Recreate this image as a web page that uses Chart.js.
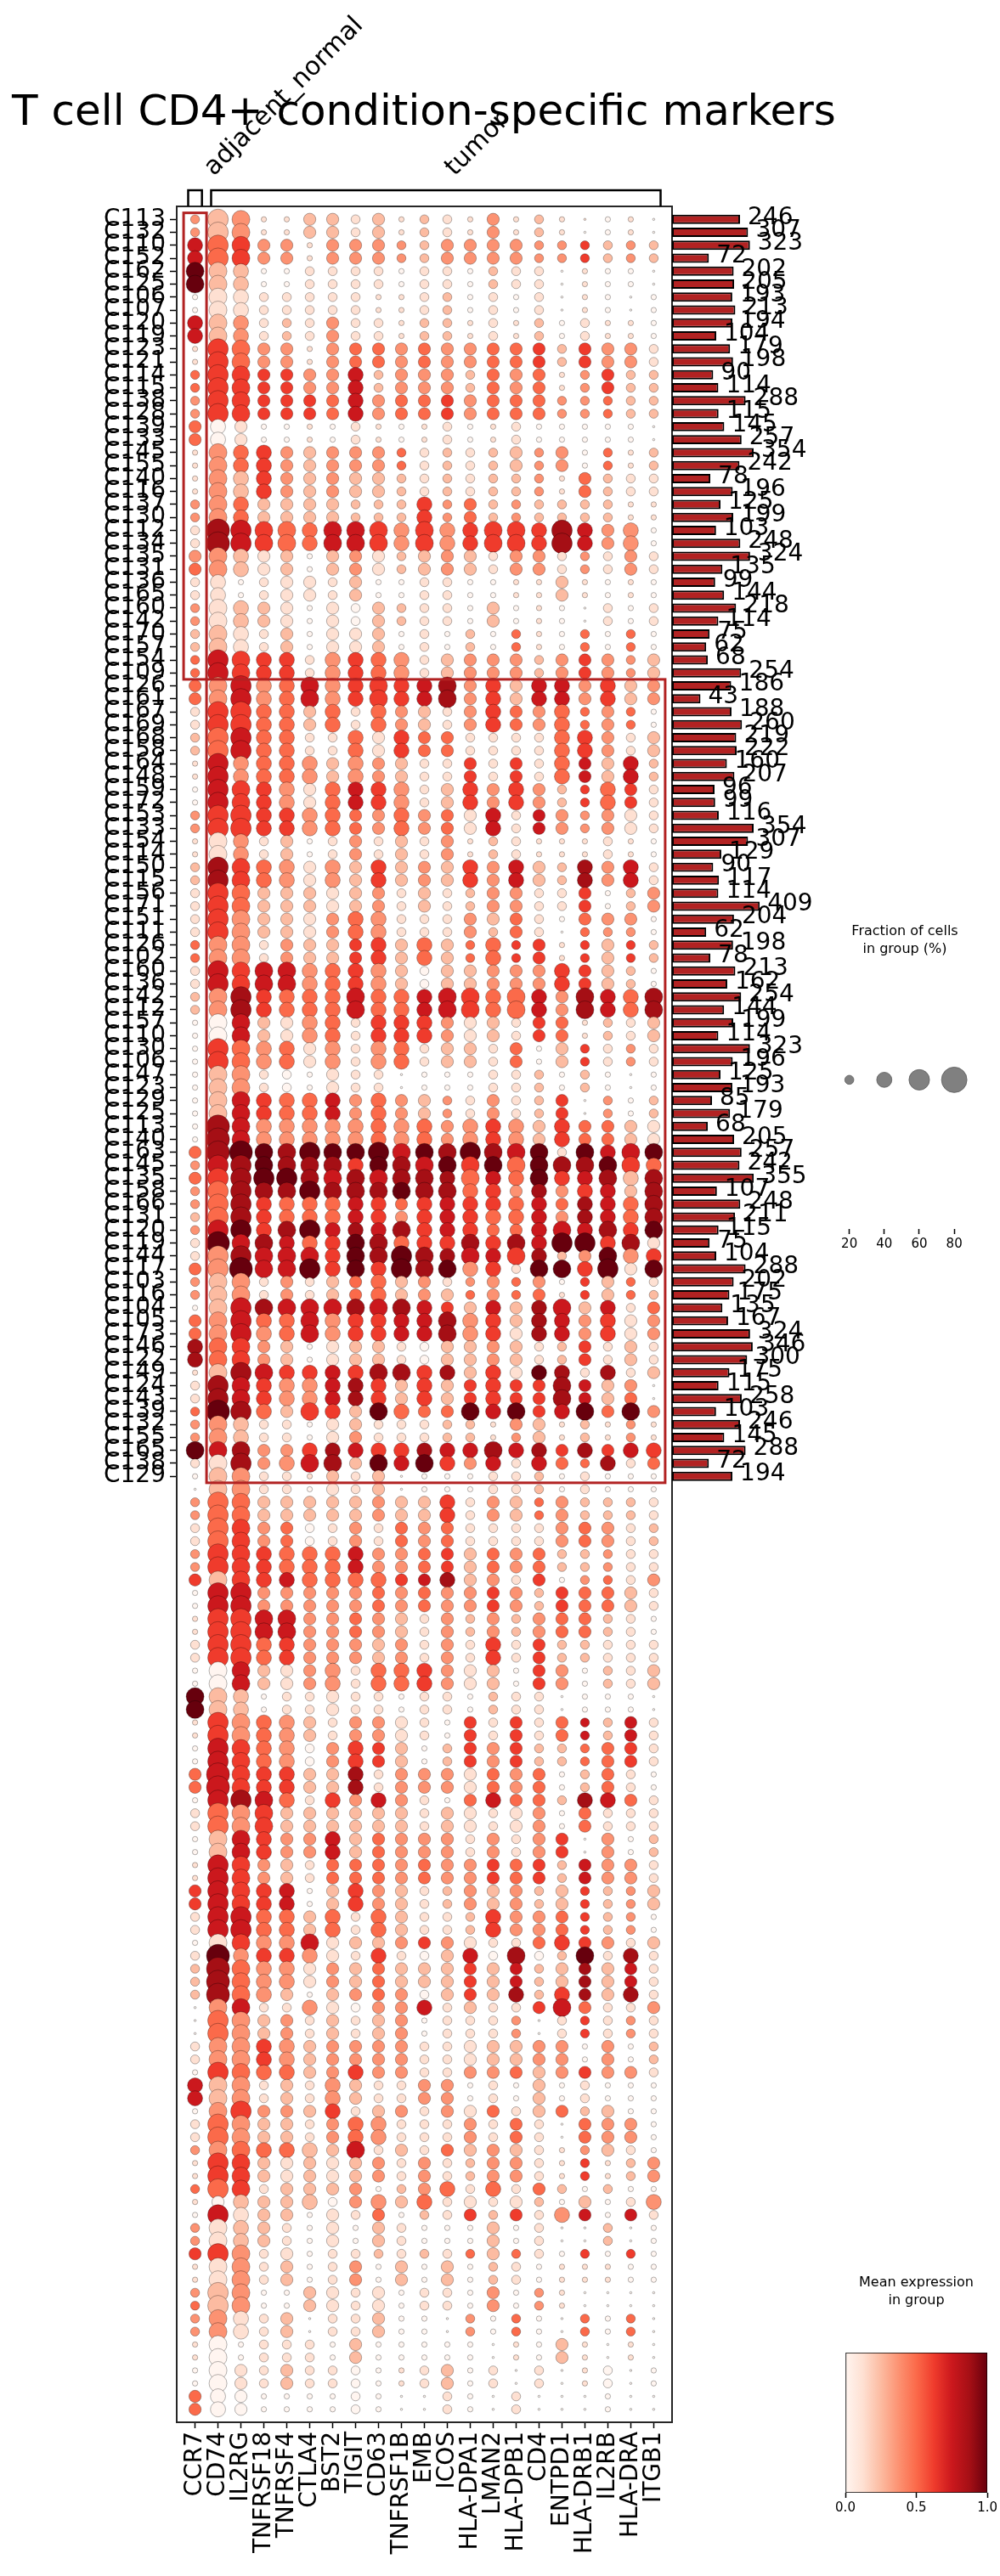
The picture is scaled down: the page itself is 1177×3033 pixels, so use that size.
<!DOCTYPE html>
<html>
<head>
<meta charset="utf-8">
<title>T cell CD4+ condition-specific markers</title>
<script src="https://cdn.jsdelivr.net/npm/chart.js@4.4.1/dist/chart.umd.min.js"></script>
<style>
  html, body { margin: 0; padding: 0; background: #fff; overflow: hidden; }
  #page { position: relative; width: 1177px; height: 3033px; }
  #page canvas { position: absolute; }
</style>
</head>
<body>
<div id="page">
  <canvas id="dots" width="1177" height="3033" style="left:0;top:0"></canvas>
  <canvas id="totals" width="386" height="3033" style="left:791px;top:0"></canvas>
  <canvas id="sizeLegend" width="224" height="440" style="left:953px;top:1080px"></canvas>
  <canvas id="colorbar" width="197" height="383" style="left:980px;top:2650px"></canvas>
</div>
<script>
// genes on the x axis
const genes = ['CCR7', 'CD74', 'IL2RG', 'TNFRSF18', 'TNFRSF4', 'CTLA4', 'BST2', 'TIGIT', 'CD63',
  'TNFRSF1B', 'EMB', 'ICOS', 'HLA-DPA1', 'LMAN2', 'HLA-DPB1', 'CD4', 'ENTPD1', 'HLA-DRB1',
  'IL2RB', 'HLA-DRA', 'ITGB1'];

// condition groups: columns they cover and the rows that are boxed in red
const groups = ['adjacent_normal', 'tumor'];
const groupCols = [[0, 0], [1, 20]];
const highlightRows = [[0, 35], [36, 97]];

// y tick labels (only the first 98 rows carry a label)
const rowLabels = ['C113', 'C132', 'C110', 'C152', 'C162', 'C125', 'C106', 'C107', 'C120', 'C119',
  'C123', 'C121', 'C114', 'C115', 'C138', 'C128', 'C139', 'C133', 'C145', 'C155',
  'C140', 'C116', 'C137', 'C130', 'C112', 'C134', 'C135', 'C131', 'C136', 'C165',
  'C160', 'C142', 'C170', 'C157', 'C154', 'C109', 'C126', 'C161', 'C167', 'C169',
  'C168', 'C158', 'C164', 'C148', 'C159', 'C172', 'C153', 'C133', 'C154', 'C114',
  'C150', 'C115', 'C156', 'C171', 'C151', 'C111', 'C126', 'C102', 'C160', 'C136',
  'C142', 'C112', 'C157', 'C110', 'C130', 'C106', 'C147', 'C123', 'C129', 'C125',
  'C113', 'C140', 'C163', 'C145', 'C135', 'C158', 'C166', 'C131', 'C120', 'C119',
  'C144', 'C117', 'C103', 'C116', 'C104', 'C105', 'C173', 'C146', 'C122', 'C149',
  'C124', 'C143', 'C139', 'C132', 'C155', 'C165', 'C138', 'C129'];

// cells per group (bars on the right)
const cellCounts = [246, 307, 323, 72, 202, 205, 193, 213, 194, 104, 179, 198, 90, 114, 288, 115,
  145, 257, 354, 242, 78, 196, 125, 199, 103, 248, 324, 135, 99, 144, 218, 114, 75, 62, 68, 254,
  186, 43, 188, 260, 219, 222, 160, 207, 96, 99, 116, 354, 307, 129, 90, 117, 114, 409, 204, 62,
  198, 78, 213, 162, 254, 144, 199, 114, 323, 196, 125, 193, 85, 179, 68, 205, 257, 242, 355, 107,
  248, 211, 115, 75, 104, 288, 202, 175, 135, 167, 324, 346, 300, 175, 115, 258, 103, 246, 145,
  288, 72, 194];

// mean expression per row, one digit per gene, in eighths (0 = 0.0 ... 8 = 1.0)
const exprRows = [
  '323112212121131211010', '323112212121131210010', '645331333323333335232', '645331333323333335232',
  '822001111011021101000', '822001111011021101000', '011111111112010101000', '011111111112010101000',
  '623121311122111201110', '623121311122111201110', '154331344343344525331', '154331344343344525331',
  '455553362333243413522', '455553362333243413522', '355555463445344433422', '355555463445344433422',
  '401001011011011000000', '401001011011011000000', '134532333412122330412', '134532333412122330412',
  '132532322212122314211', '132532322212122314211', '334222222253423222211', '334222222253423222211',
  '176544665353555576330', '176544665353555576330', '332120231223213313131', '432120231223213313131',
  '110111120011001121010', '110111120011001121010', '312210102211020100101', '312210102211020100101',
  '221120112010204104040', '221120112010204104040', '465551354312333235332', '465551354312333235332',
  '436346355567352663523', '436346355567352663523', '155442414321354344340', '155442414321354344340',
  '246441141544111145312', '246441141544111145312', '163443233211515146262', '163443233211515146262',
  '065531465312535325451', '065531465312535325451', '355553443434161633311', '355553443434161633311',
  '113120131213121111110', '113120131213121111110', '275431325232536227361', '275431325232536227361',
  '154222123121233115023', '154222123121233115023', '153221343111324104330', '153221343111324104330',
  '433132255242445515252', '433132255242445515252', '165663453202233355220', '165663453202233355220',
  '237544464466544637647', '237544464466544637647', '006213415553121541212', '006213415553121541212',
  '054341313412214025131', '054341313412214025131', '023100111000011202000', '023100111000011202000',
  '026544634323131250302', '026544634323131250302', '076333334343353254421', '076333334343353254421',
  '478878888687876818668', '367877758768584877854', '457887676777464856727', '347778777877453735627',
  '347544465456554647647', '247544465356544637647', '368578676756544666758', '186764587455757688571',
  '137666587877665723835', '438668585878351885818', '323131244231334305241', '323131244232434415242',
  '026766676765262762614', '436446355667352763513', '436346355667351763513', '745320122102232125121',
  '745320122102232125121', '127655657757251871712', '176533675252555576230', '176533675252555576240',
  '487425528444868568483', '332110121112213212131', '332110131112213212131', '867335765576676757565',
  '117336728685361644714', '023111212000011201000', '023110112000011201000', '344222223225132432221',
  '344222223225132432221', '145340131434111134312', '145340131434111134312', '355544463345243422311',
  '355544463345243422311', '525564444567231503413', '066333334343353254421', '066333334343353254421',
  '155663343213232344210', '155663343213232344210', '155453332313151522111', '155453332313151522111',
  '006213314453120530212', '006213314453120530212', '822011111011021100000', '822011111011021100000',
  '153432133110515146261', '153432133110515146261', '065430355202535224451', '065430355202535224451',
  '465552271333143402410', '465552271333143402410', '067641536310464427641', '143522222212111304111',
  '143522222212111304111', '026533624333131350302', '026533624333131350302', '165321444343354526331',
  '165321444343354526331', '565560253212323225232', '565560253212323225232', '166442414211253345230',
  '166442414211253345230', '015336122353111455312', '183553115102607028171', '274331324222526227261',
  '274331324222526227261', '274320234302527257271', '036113103361211564113', '043231212301113015131',
  '043231212301113015131', '133532333311122330302', '133532333311122330302', '054442353311334235331',
  '623121321133010201000', '623121321133010201000', '035332512313141242200', '143221343111314104330',
  '143221343111314104330', '334442261214232113210', '155212123131233115123', '155212123131233115123',
  '445122230234141420200', '102222033241111202013', '061220114021525136061', '312210102100020100200',
  '312210102100020100200', '553110112121424105050', '113120130202021011100', '113120130202021011100',
  '323002111011030310000', '423002111011030310000', '331120112000304004040', '331120112000304004040',
  '100111020000001021010', '100111020000001021010', '001121100112010101000', '001121100112010101000',
  '400000000001001000000', '400000000001001000000'
];

// fraction of cells expressing, one digit per gene, in tens of percent (0 = a few percent)
const fracRows = [
  '265113323122131210110', '265113323122131210110', '465331333223333222222', '465331333223333222222',
  '554112222122122201110', '554112222122122201110', '154222221122121201101', '154222221122121201101',
  '454222322122121212111', '454222322122121212111', '165331333333333323332', '165331333333333323332',
  '265333342333233312322', '265333342333233312322', '265333343333333322222', '265333343333333322222',
  '343111121112112111110', '343111121112112111110', '154433333222223231212', '154433333222223231212',
  '154433333222222213222', '154433333222222213222', '254333322242322222211', '254333322242322222211',
  '276554555454455464341', '276554555454455464341', '354331333233323322232', '354331333233323322232',
  '241233231122111131111', '241233231122111131111', '254331323222131110212', '254331323222131110212',
  '254231333121212112121', '254231333121212112121', '265442444423333233323', '265442444423333233323',
  '356445445445343443433', '356445445445343443433', '266443424332343342321', '266443424332343342321',
  '266442243433222244323', '266442243433222244323', '164444343322323243342', '164444343322323243342',
  '165443444423434322432', '165443444423434322432', '266444433433342332332', '266444433433342332332',
  '154231232323122111211', '154231232323122111211', '265443434333434324342', '265443434333434324342',
  '265333333232233223123', '265333333232233223123', '265333344222333213331', '265333344222323202221',
  '255233334343242312322', '255233334343242312322', '265554444323333343321', '265554444323333343321',
  '256444454445545435445', '256444454445545435445', '155334424443332331223', '155334424443332331223',
  '165443424423323132222', '165443424423323132222', '155221322011122212101', '155221322011122212101',
  '155444434332232230212', '155444434332232230212', '175444444443444343333', '175444444443444343333',
  '377556556555655525455', '266555545555555555554', '366665555554544544545', '266556555555443434435',
  '266444444344444434445', '266444444344444434445', '266456444544433454545', '275544455444545466453',
  '266555455654545423544', '367556454655442554635', '255232334332232312322', '255232334333232312322',
  '156555555543343453423', '356445444445443443433', '356445444445443443433', '455331333223333223232',
  '455331333223333223232', '156544445544343442423', '265444444343343353330', '265444444343343353330',
  '276435435433545345353', '254221332222213312121', '254221332222212312121', '555334444444454434344',
  '256345535454342432423', '155221323011122212111', '055221323011122212111', '265333333334233232222',
  '265333333334233232222', '265332232333222233322', '265332232333222233322', '265444443333333322222',
  '265444443333333322222', '355444444334332312223', '166333333333333233332', '166333333333333233332',
  '166553333323232333221', '166553333323232333221', '266443333323242322222', '266443333323242322222',
  '155333424443331331223', '155333424443331331223', '554122322122122201110', '554122322122122201110',
  '165443233321323232232', '165443233321323232232', '165442343312333222332', '165442343312333222332',
  '375443342333333312321', '375443342333333312321', '166542434321343324432', '265533333323323313222',
  '265533333323323313222', '155433433333232330312', '155433433333232330312', '165332333333333323332',
  '165332333333333323332', '365441343322333232223', '365441343322333232223', '266443424322243332221',
  '266443424322243332221', '155445333333322343323', '274444324223425225242', '275443333333333233332',
  '275443333333333233332', '275431333323334243342', '055224323342322353223', '065332323312222022222',
  '065332323312222022222', '255443333322333331312', '255443333322333331312', '165443343322333333332',
  '455232432233121312111', '455232432233121312111', '156333423323332332311', '265332344222323203331',
  '265332344222323203331', '255444352323333212321', '165333333232233212123', '165333333232233212123',
  '265233331234242321211', '134334234342323213124', '164331323122323243132', '254321313211131200201',
  '254321313211131200201', '365231222222232212121', '155231231313122111111', '155231231313122111111',
  '265113323122131210000', '265113323122131210000', '254230223110212102120', '254230223110212102120',
  '151222131111101131010', '151222131111101131010', '153232221123120201201', '153232221123120201201',
  '343111121002102000100', '343111121002102000100'
];

// legends
const sizeLegendValues = [20, 40, 60, 80];
const colorbarRange = [0, 1];
const colorbarTicks = [0, 0.5, 1];

const FONT = "'DejaVu Sans', sans-serif";
Chart.defaults.font.family = FONT;
Chart.defaults.color = '#000';

// matplotlib "Reds"
const REDS = ['#fff5f0', '#fee0d2', '#fcbba1', '#fc9272', '#fb6a4a', '#ef3b2c', '#cb181d', '#a50f15', '#67000d'];

function hexToRgb(h) {
  return [1, 3, 5].map(k => parseInt(h.slice(k, k + 2), 16));
}

function reds(t) {
  const p = Math.min(Math.max(t, 0), 1) * (REDS.length - 1);
  const i = Math.min(Math.floor(p), REDS.length - 2);
  const f = p - i;
  const a = hexToRgb(REDS[i]);
  const b = hexToRgb(REDS[i + 1]);
  const c = a.map((v, k) => Math.round(v + (b[k] - v) * f));
  return `rgb(${c[0]},${c[1]},${c[2]})`;
}

// dot area grows with fraction^1.5 like scanpy
function dotRadius(pct) {
  return 17.7 * Math.pow(pct / 100, 0.75);
}

// square-root scale for the totals bars
class SqrtScale extends Chart.LinearScale {
  getPixelForValue(value) {
    return this.getPixelForDecimal(Math.sqrt(Math.max(0, value)) / Math.sqrt(this.max));
  }
  getValueForPixel(pixel) {
    const d = this.getDecimalForPixel(pixel);
    return d * d * this.max;
  }
}
SqrtScale.id = 'sqrt';
SqrtScale.defaults = Chart.LinearScale.defaults;
Chart.register(SqrtScale);

const cells = [];
exprRows.forEach((row, r) => {
  for (let c = 0; c < genes.length; c++) {
    const f = +fracRows[r][c];
    cells.push({ x: c, y: r, expr: +row[c] / 8, frac: f === 0 ? 3 : f * 10 });
  }
});

const common = {
  responsive: false,
  animation: false,
  events: [],
  devicePixelRatio: 1,
};
const noPlugins = { legend: { display: false }, tooltip: { enabled: false } };

// row axis shared by the dot plot and the totals bars
function rowAxis(extra) {
  return Object.assign({
    type: 'linear', reverse: true, min: -1, max: exprRows.length,
    offset: false, grace: 0, bounds: 'data',
    afterBuildTicks: s => { s.ticks = rowLabels.map((l, i) => ({ value: i })); }
  }, extra);
}

// frame, red boxes, group brackets and the title
const dotDecor = {
  id: 'dotDecor',
  afterDraw(chart) {
    const { ctx, chartArea: a, scales: { x, y } } = chart;
    ctx.save();
    ctx.strokeStyle = '#262626';
    ctx.lineWidth = 2;
    ctx.strokeRect(a.left, a.top, a.right - a.left, a.bottom - a.top);

    ctx.strokeStyle = '#b22222';
    ctx.lineWidth = 3;
    groupCols.forEach(([c0, c1], g) => {
      const [r0, r1] = highlightRows[g];
      const L = x.getPixelForValue(c0 - 0.5), R = x.getPixelForValue(c1 + 0.5);
      const T = y.getPixelForValue(r0 - 0.5), B = y.getPixelForValue(r1 + 0.5);
      ctx.strokeRect(L, T, R - L, B - T);
    });

    const yTop = a.top - 19;
    ctx.strokeStyle = '#000';
    ctx.lineWidth = 2.5;
    ctx.fillStyle = '#000';
    ctx.font = `30px ${FONT}`;
    ctx.textAlign = 'left';
    ctx.textBaseline = 'alphabetic';
    groupCols.forEach(([c0, c1], g) => {
      const L = x.getPixelForValue(c0 - 0.3), R = x.getPixelForValue(c1 + 0.3);
      ctx.beginPath();
      ctx.moveTo(L, a.top);
      ctx.lineTo(L, yTop);
      ctx.lineTo(R, yTop);
      ctx.lineTo(R, a.top);
      ctx.stroke();
      ctx.save();
      ctx.translate((L + R) / 2 + 22, yTop - 16);
      ctx.rotate(-Math.PI / 4);
      ctx.fillText(groups[g], 0, 0);
      ctx.restore();
    });

    ctx.font = `50px ${FONT}`;
    ctx.textAlign = 'center';
    ctx.fillText('T cell CD4+ condition-specific markers', 499, 147);
    ctx.restore();
  }
};

new Chart(document.getElementById('dots'), {
  type: 'scatter',
  data: {
    datasets: [{
      data: cells,
      pointRadius: ctx => dotRadius(ctx.raw.frac),
      pointBackgroundColor: ctx => reds(ctx.raw.expr),
      pointBorderColor: 'rgba(0,0,0,0.5)',
      pointBorderWidth: 0.6,
      clip: false
    }]
  },
  options: {
    ...common,
    layout: { padding: { top: 243, right: 386, left: 0, bottom: 0 } },
    plugins: noPlugins,
    scales: {
      x: {
        type: 'linear', min: -0.8, max: 20.8,
        afterBuildTicks: s => { s.ticks = genes.map((g, i) => ({ value: i })); },
        afterFit: s => { s.height = 181; },
        ticks: { autoSkip: false, minRotation: 90, maxRotation: 90, padding: 4,
          font: { size: 28 }, callback: v => genes[v] },
        grid: { drawOnChartArea: false, tickLength: 7, tickWidth: 1.5, tickColor: '#000' },
        border: { display: false }
      },
      y: rowAxis({
        afterFit: s => { s.width = 208; },
        ticks: { autoSkip: false, padding: 5, font: { size: 28 }, callback: v => rowLabels[v] },
        grid: { drawOnChartArea: false, tickLength: 8, tickWidth: 1.5, tickColor: '#000' },
        border: { display: false }
      })
    }
  },
  plugins: [dotDecor]
});

// numbers at the end of each bar
const countLabels = {
  id: 'countLabels',
  afterDatasetsDraw(chart) {
    const { ctx } = chart;
    const meta = chart.getDatasetMeta(0);
    ctx.save();
    ctx.font = `28px ${FONT}`;
    ctx.fillStyle = '#000';
    ctx.textAlign = 'left';
    ctx.textBaseline = 'middle';
    meta.data.forEach((bar, i) => ctx.fillText(String(cellCounts[i]), bar.x + 9, bar.y - 2));
    ctx.restore();
  }
};

new Chart(document.getElementById('totals'), {
  type: 'bar',
  data: {
    datasets: [{
      data: cellCounts.map((n, i) => ({ x: n, y: i })),
      backgroundColor: '#b22222',
      borderColor: '#000',
      borderWidth: 2,
      borderSkipped: false,
      barPercentage: 0.72,
      categoryPercentage: 1
    }]
  },
  options: {
    ...common,
    indexAxis: 'y',
    layout: { padding: { top: 243, bottom: 181, left: 0, right: 266 } },
    plugins: noPlugins,
    scales: {
      y: rowAxis({ display: false, grid: { offset: false } }),
      x: { type: 'sqrt', min: 0, max: 553, display: false, offset: false }
    }
  },
  plugins: [countLabels]
});

function legendTitle(lines, firstY) {
  return {
    id: 'legendTitle',
    afterDraw(chart) {
      const { ctx } = chart;
      ctx.save();
      ctx.font = `16px ${FONT}`;
      ctx.fillStyle = '#000';
      ctx.textAlign = 'center';
      ctx.textBaseline = 'middle';
      lines.forEach((t, i) => ctx.fillText(t, chart.width / 2, firstY + i * 21));
      ctx.restore();
    }
  };
}

new Chart(document.getElementById('sizeLegend'), {
  type: 'scatter',
  data: {
    datasets: [{
      data: sizeLegendValues.map(v => ({ x: v, y: 0.5 })),
      pointRadius: ctx => dotRadius(ctx.raw.x),
      pointBackgroundColor: '#808080',
      pointBorderColor: '#5a5a5a',
      pointBorderWidth: 0.8,
      clip: false
    }]
  },
  options: {
    ...common,
    layout: { padding: { top: 7, left: 10, right: 23, bottom: 0 } },
    plugins: noPlugins,
    scales: {
      x: {
        type: 'linear', min: 5, max: 95,
        afterBuildTicks: s => { s.ticks = sizeLegendValues.map(v => ({ value: v })); },
        afterFit: s => { s.height = 73; },
        ticks: { font: { size: 15 }, padding: 3, maxRotation: 0 },
        grid: { drawOnChartArea: false, tickLength: 6, tickWidth: 1.5, tickColor: '#000' },
        border: { display: false }
      },
      y: { display: false, min: 0, max: 1 }
    }
  },
  plugins: [legendTitle(['Fraction of cells', 'in group (%)'], 17)]
});

new Chart(document.getElementById('colorbar'), {
  type: 'bar',
  data: {
    labels: [''],
    datasets: [{
      data: [colorbarRange],
      backgroundColor: ctx => {
        const a = ctx.chart.chartArea;
        if (!a) return '#fff';
        const g = ctx.chart.ctx.createLinearGradient(a.left, 0, a.right, 0);
        REDS.forEach((c, i) => g.addColorStop(i / (REDS.length - 1), c));
        return g;
      },
      borderColor: '#000',
      borderWidth: 1,
      borderSkipped: false,
      barPercentage: 1,
      categoryPercentage: 1
    }]
  },
  options: {
    ...common,
    indexAxis: 'y',
    layout: { padding: { top: 120, left: 15, right: 14, bottom: 0 } },
    plugins: noPlugins,
    scales: {
      y: { display: false },
      x: {
        type: 'linear', min: 0, max: 1,
        afterBuildTicks: s => { s.ticks = colorbarTicks.map(v => ({ value: v })); },
        afterFit: s => { s.height = 98; },
        ticks: { font: { size: 15 }, padding: 3, maxRotation: 0, callback: v => v.toFixed(1) },
        grid: { drawOnChartArea: false, tickLength: 6, tickWidth: 1.5, tickColor: '#000' },
        border: { display: false }
      }
    }
  },
  plugins: [legendTitle(['Mean expression', 'in group'], 38)]
});
</script>
</body>
</html>
